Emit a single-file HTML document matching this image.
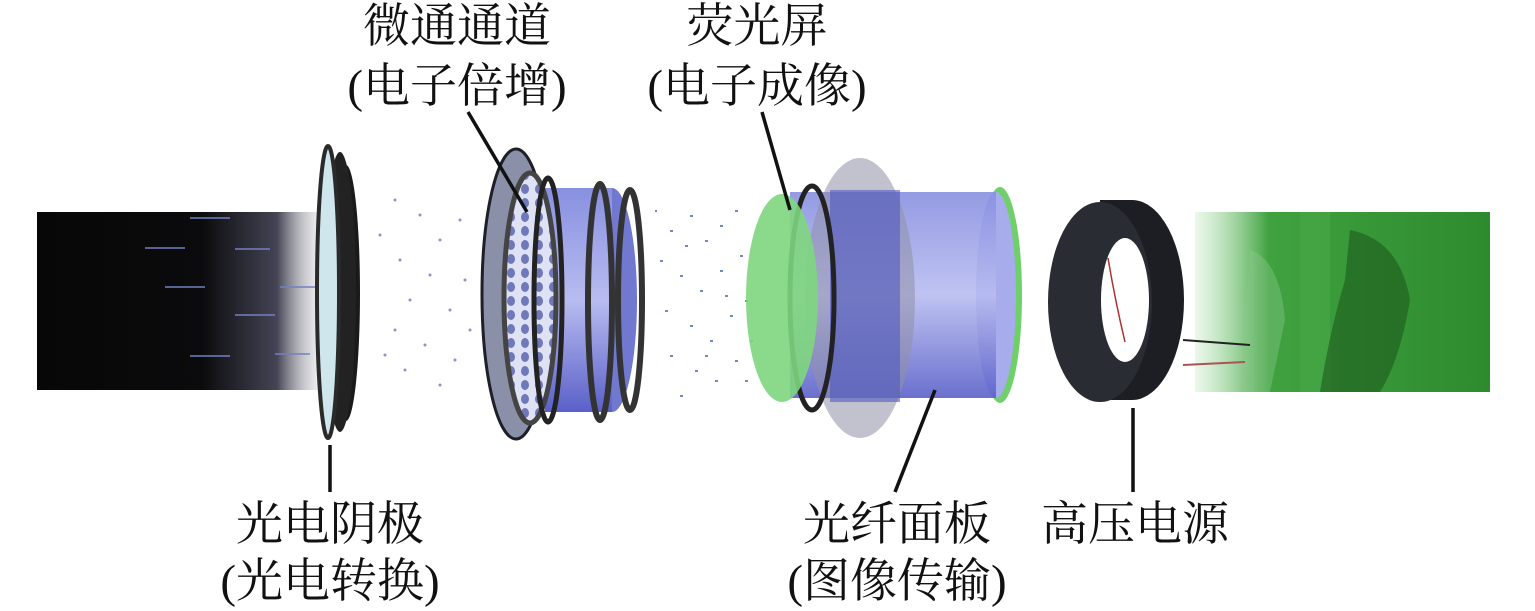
<!DOCTYPE html>
<html><head><meta charset="utf-8"><style>
html,body{margin:0;padding:0;background:#fff;width:1535px;height:611px;overflow:hidden}
svg text{font-family:"Liberation Serif","Noto Serif CJK SC",serif;font-size:47px;fill:#111}
</style></head><body>
<svg width="1535" height="611" viewBox="0 0 1535 611" xmlns="http://www.w3.org/2000/svg">
<defs>
<linearGradient id="dark" x1="0" x2="1"><stop offset="0" stop-color="#070707"/><stop offset="0.55" stop-color="#0b0b0d"/><stop offset="0.8" stop-color="#445"/><stop offset="1" stop-color="#fff" stop-opacity="0"/></linearGradient>
<linearGradient id="grn" x1="0" x2="1"><stop offset="0" stop-color="#9ad89a" stop-opacity="0.2"/><stop offset="0.25" stop-color="#3fa23f"/><stop offset="1" stop-color="#2e8a2e"/></linearGradient>
<linearGradient id="blu" x1="0" y1="0" x2="0" y2="1"><stop offset="0" stop-color="#8890e0"/><stop offset="0.5" stop-color="#b8bcf0"/><stop offset="1" stop-color="#5a60c8"/></linearGradient>
<pattern id="hex" width="14" height="14" patternUnits="userSpaceOnUse"><rect width="14" height="14" fill="#dfe2f5"/><ellipse cx="7" cy="7" rx="4" ry="5" fill="#6f78b8"/></pattern>
</defs>
<rect x="37" y="212" width="300" height="178" fill="url(#dark)"/>
<g stroke="#7380c0" stroke-width="1.5"><line x1="190" y1="218" x2="230" y2="218"/><line x1="145" y1="248" x2="185" y2="248"/><line x1="235" y1="249" x2="270" y2="249"/><line x1="165" y1="287" x2="205" y2="287"/><line x1="280" y1="287" x2="315" y2="287"/><line x1="235" y1="315" x2="275" y2="315"/><line x1="190" y1="356" x2="230" y2="356"/><line x1="275" y1="354" x2="310" y2="354"/></g>
<ellipse cx="346" cy="293" rx="14" ry="128" fill="#1a1a1a"/>
<ellipse cx="340" cy="292" rx="16" ry="140" fill="#222"/>
<ellipse cx="328" cy="292" rx="11" ry="146" fill="#cfe6ec" stroke="#2a2a2a" stroke-width="4"/>
<g fill="#8a94cc">
<circle cx="395" cy="200" r="1.5"/><circle cx="420" cy="215" r="1.5"/><circle cx="440" cy="240" r="1.5"/><circle cx="400" cy="260" r="1.5"/><circle cx="430" cy="275" r="1.5"/><circle cx="410" cy="300" r="1.5"/><circle cx="450" cy="310" r="1.5"/><circle cx="395" cy="330" r="1.5"/><circle cx="425" cy="345" r="1.5"/><circle cx="455" cy="360" r="1.5"/><circle cx="405" cy="370" r="1.5"/><circle cx="440" cy="385" r="1.5"/><circle cx="460" cy="220" r="1.5"/><circle cx="465" cy="280" r="1.5"/><circle cx="470" cy="330" r="1.5"/><circle cx="380" cy="235" r="1.5"/><circle cx="385" cy="355" r="1.5"/></g>
<ellipse cx="612" cy="300" rx="25" ry="112" fill="#7078d0"/>
<rect x="545" y="188" width="67" height="224" fill="url(#blu)"/>
<ellipse cx="630" cy="300" rx="12" ry="110" fill="none" stroke="#333" stroke-width="6"/>
<ellipse cx="600" cy="302" rx="12" ry="118" fill="none" stroke="#333" stroke-width="6"/>
<ellipse cx="516" cy="294" rx="34" ry="145" fill="#8a90a8" stroke="#1f1f28" stroke-width="3"/>
<ellipse cx="530" cy="298" rx="26" ry="125" fill="url(#hex)" stroke="#444" stroke-width="5"/>
<ellipse cx="548" cy="300" rx="14" ry="122" fill="none" stroke="#222" stroke-width="5"/>
<g fill="#5a74b8" opacity="0.85">
<rect x="655" y="210" width="2" height="2"/><rect x="670" y="230" width="3" height="2"/><rect x="690" y="215" width="3" height="2"/><rect x="705" y="240" width="3" height="2"/><rect x="720" y="225" width="3" height="2"/><rect x="735" y="210" width="3" height="2"/><rect x="660" y="260" width="3" height="2"/><rect x="680" y="275" width="3" height="2"/><rect x="700" y="290" width="3" height="2"/><rect x="720" y="270" width="3" height="2"/><rect x="740" y="255" width="3" height="2"/><rect x="665" y="310" width="3" height="2"/><rect x="690" y="325" width="3" height="2"/><rect x="710" y="340" width="3" height="2"/><rect x="730" y="315" width="3" height="2"/><rect x="745" y="300" width="3" height="2"/><rect x="670" y="355" width="3" height="2"/><rect x="695" y="370" width="3" height="2"/><rect x="715" y="380" width="3" height="2"/><rect x="735" y="360" width="3" height="2"/><rect x="750" y="340" width="3" height="2"/><rect x="685" y="245" width="3" height="2"/><rect x="725" y="295" width="3" height="2"/><rect x="705" y="355" width="3" height="2"/><rect x="745" y="380" width="3" height="2"/><rect x="680" y="395" width="3" height="2"/></g>
<ellipse cx="1000" cy="295" rx="22" ry="108" fill="#6fd06a"/>
<ellipse cx="996" cy="295" rx="20" ry="103" fill="#a7acec"/>
<rect x="790" y="192" width="206" height="206" fill="url(#blu)" opacity="0.9"/>
<ellipse cx="860" cy="298" rx="55" ry="140" fill="#9090a8" opacity="0.55"/>
<rect x="830" y="190" width="70" height="212" fill="#5058c0" opacity="0.6"/>
<ellipse cx="812" cy="298" rx="22" ry="112" fill="none" stroke="#222" stroke-width="5"/>
<ellipse cx="782" cy="298" rx="36" ry="104" fill="#7ed67e" opacity="0.9"/>
<!-- green image -->
<rect x="1195" y="212" width="295" height="180" fill="url(#grn)"/>
<path d="M1300 212 L1330 212 L1330 392 L1300 392 Z" fill="#4aa84a" opacity="0.6"/>
<path d="M1350 230 Q1400 240 1410 300 Q1400 360 1380 392 L1320 392 Q1330 330 1345 280 Z" fill="#1d5a1d" opacity="0.6"/>
<path d="M1250 250 Q1280 260 1285 320 L1270 392 L1240 392 Z" fill="#8cc88c" opacity="0.4"/>
<!-- ring -->
<ellipse cx="1132" cy="300" rx="52" ry="100" fill="#1c1e24"/>
<rect x="1100" y="200" width="32" height="200" fill="#1c1e24"/>
<ellipse cx="1100" cy="302" rx="52" ry="100" fill="#2a2c34"/>
<ellipse cx="1125" cy="300" rx="24" ry="62" fill="#fff"/>
<path d="M1108 258 Q1115 300 1125 342" stroke="#a33" stroke-width="1.5" fill="none"/>
<line x1="1183" y1="340" x2="1250" y2="345" stroke="#222" stroke-width="2"/>
<line x1="1183" y1="365" x2="1245" y2="362" stroke="#a55" stroke-width="2"/>
<g stroke="#111" stroke-width="3.5">
<line x1="468" y1="112" x2="527" y2="212"/>
<line x1="762" y1="112" x2="790" y2="210"/>
<line x1="330" y1="445" x2="330" y2="492"/>
<line x1="935" y1="390" x2="895" y2="492"/>
<line x1="1133" y1="408" x2="1133" y2="492"/>
</g>
<g text-anchor="middle">
<text x="457" y="42">微通通道</text>
<text x="457" y="102">(电子倍增)</text>
<text x="757" y="42">荧光屏</text>
<text x="757" y="102">(电子成像)</text>
<text x="330" y="540">光电阴极</text>
<text x="330" y="597">(光电转换)</text>
<text x="897" y="540">光纤面板</text>
<text x="897" y="597">(图像传输)</text>
<text x="1135" y="540">高压电源</text>
</g>
</svg>
</body></html>
